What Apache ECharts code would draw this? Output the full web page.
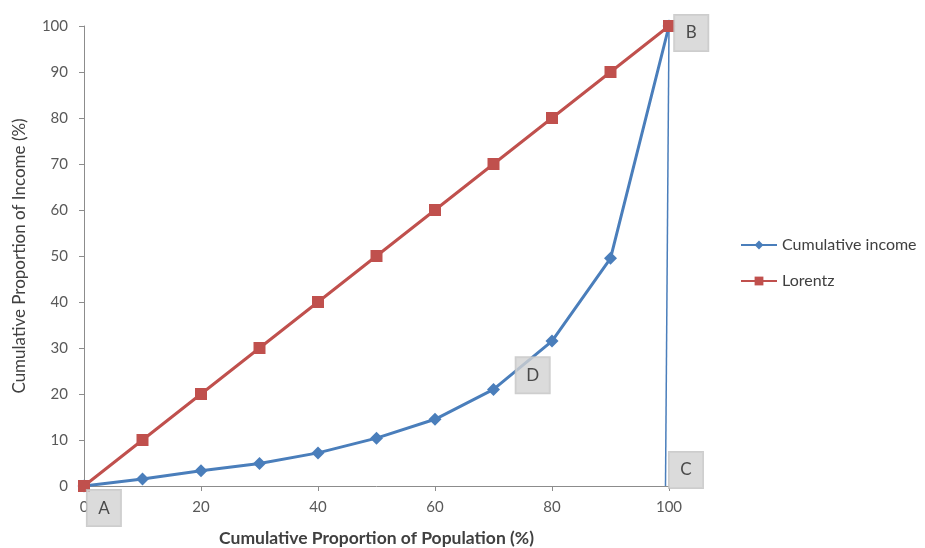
<!DOCTYPE html>
<html>
<head>
<meta charset="utf-8">
<script src="https://cdn.jsdelivr.net/npm/echarts@6/dist/echarts.min.js"></script>
<style>
  html, body { margin: 0; padding: 0; background: #fff; }
  #chart { width: 925px; height: 548px; }
</style>
</head>
<body>
<div id="chart"></div>
<script>
// Population share (x) for each decile point
const population = [0, 10, 20, 30, 40, 50, 60, 70, 80, 90, 100];
// Cumulative share of income held by the population up to x
const cumulativeIncome = [0, 1.5, 3.3, 4.9, 7.2, 10.4, 14.5, 21, 31.5, 49.5, 100];
// Line of perfect equality
const lorentz = [0, 10, 20, 30, 40, 50, 60, 70, 80, 90, 100];
// Closing edge from B down to C
const closingEdgeX = [100, 99.4];
const closingEdgeY = [100, 0];
// Corner labels and where their boxes sit (data coordinates)
const cornerNames = ['A', 'B', 'C', 'D'];
const cornerX = [3.4, 103.8, 102.9, 76.7];
const cornerY = [-4.8, 98.5, 3.5, 24.1];

const FONT = 'Lato, "Open Sans", sans-serif';
const BLUE = '#4a7ebb';
const RED = '#c0504d';

const chart = echarts.init(document.getElementById('chart'), null, { renderer: 'canvas' });

chart.setOption({
  animation: false,
  backgroundColor: '#ffffff',
  grid: { left: 84, right: 256, top: 26, bottom: 62, containLabel: false, outerBoundsMode: 'none' },
  legend: {
    orient: 'vertical',
    left: 735,
    top: 232,
    itemWidth: 36,
    itemHeight: 11,
    itemGap: 20,
    textStyle: { fontFamily: FONT, fontSize: 16, color: '#404040' },
    data: ['Cumulative income', 'Lorentz']
  },
  xAxis: {
    type: 'value',
    min: 0, max: 100, interval: 20,
    name: 'Cumulative Proportion of Population (%)',
    nameLocation: 'middle',
    nameGap: 43,
    nameTextStyle: { fontFamily: FONT, fontSize: 17.5, fontWeight: 'bold', color: '#404040' },
    axisLine: { show: true, lineStyle: { color: '#8c8c8c', width: 1 } },
    axisTick: { show: true, inside: false, length: 5, lineStyle: { color: '#8c8c8c' } },
    axisLabel: { fontFamily: FONT, fontSize: 15, color: '#595959', margin: 14 },
    splitLine: { show: false }
  },
  yAxis: {
    type: 'value',
    min: 0, max: 100, interval: 10,
    name: 'Cumulative Proportion of Income (%)',
    nameLocation: 'middle',
    nameGap: 56,
    nameTextStyle: { fontFamily: FONT, fontSize: 17, color: '#404040' },
    axisLine: { show: true, lineStyle: { color: '#8c8c8c', width: 1 } },
    axisTick: { show: true, inside: false, length: 5, lineStyle: { color: '#8c8c8c' } },
    axisLabel: { fontFamily: FONT, fontSize: 15, color: '#595959', margin: 16 },
    splitLine: { show: false }
  },
  series: [
    {
      name: 'closing edge',
      type: 'line',
      data: closingEdgeX.map((x, i) => [x, closingEdgeY[i]]),
      showSymbol: false,
      symbol: 'none',
      lineStyle: { color: BLUE, width: 1.5 },
      z: 1,
      silent: true
    },
    {
      name: 'Cumulative income',
      type: 'line',
      data: population.map((x, i) => [x, cumulativeIncome[i]]),
      symbol: 'diamond',
      symbolSize: 13,
      itemStyle: { color: BLUE },
      lineStyle: { color: BLUE, width: 3 },
      z: 2
    },
    {
      name: 'Lorentz',
      type: 'line',
      data: population.map((x, i) => [x, lorentz[i]]),
      symbol: 'rect',
      symbolSize: 12,
      itemStyle: { color: RED },
      lineStyle: { color: RED, width: 3 },
      z: 3
    },
    {
      name: 'corners',
      type: 'scatter',
      clip: false,
      silent: true,
      symbolSize: 0.1,
      z: 10,
      data: cornerNames.map((n, i) => ({ name: n, value: [cornerX[i], cornerY[i]] })),
      label: {
        show: true,
        position: 'inside',
        formatter: '{b}',
        fontFamily: FONT,
        fontSize: 17,
        color: '#262626',
        backgroundColor: '#d2d2d2',
        borderColor: '#c0c0c0',
        borderWidth: 1,
        width: 34,
        height: 36,
        lineHeight: 36,
        align: 'center',
        verticalAlign: 'middle'
      }
    }
  ]
});
</script>
</body>
</html>
